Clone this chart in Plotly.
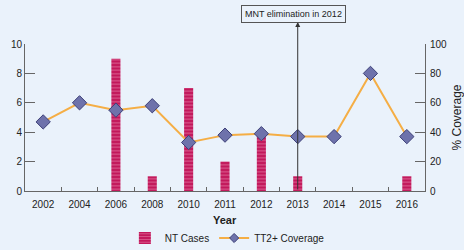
import plotly.graph_objects as go

years = ["2002", "2004", "2006", "2008", "2010", "2011", "2012", "2013", "2014", "2015", "2016"]
nt_cases = [0, 0, 9, 1, 7, 2, 4, 1, 0, 0, 1]
coverage = [47, 60, 55, 58, 33, 38, 39, 37, 37, 80, 37]
left_ticks = [0, 2, 4, 6, 8, 10]
right_ticks = [0, 20, 40, 60, 80, 100]
marker_year = "2013"

BG = "#eaf2fb"
AX = "#666666"
FONT = "Liberation Sans Narrow, Arial Narrow, Liberation Sans, Arial"
LINE_C = "#f5ae45"
MK_C = "#6e72ab"
MK_L = "#3d4078"

mi = years.index(marker_year)

fig = go.Figure()
fig.add_trace(go.Bar(
    x=years, y=nt_cases, name="NT Cases", width=0.25,
    marker=dict(color="#c2185b", line=dict(width=0),
                pattern=dict(shape="-", fgcolor="#f3a6c4", bgcolor="#c2185b",
                             size=3.5, solidity=0.3)),
))
fig.add_trace(go.Scatter(
    x=years, y=coverage, name="TT2+ Coverage", yaxis="y2", mode="lines+markers",
    showlegend=False,
    line=dict(color=LINE_C, width=2),
    marker=dict(symbol="diamond", size=11, color=MK_C, line=dict(color=MK_L, width=1)),
))
# legend entry with smaller marker
fig.add_trace(go.Scatter(
    x=[None], y=[None], name="TT2+ Coverage", yaxis="y2", mode="lines+markers",
    line=dict(color=LINE_C, width=2),
    marker=dict(symbol="diamond", size=7, color=MK_C, line=dict(color=MK_L, width=1)),
))

fig.update_layout(
    width=464, height=250,
    margin=dict(l=25, r=39, t=44, b=59, autoexpand=False),
    paper_bgcolor=BG, plot_bgcolor=BG,
    font=dict(family=FONT, size=10, color="#222222"),
    xaxis=dict(
        type="category", categoryarray=years, range=[-0.5, len(years) - 0.5],
        automargin=False,
        showgrid=False, showline=True, linecolor=AX, linewidth=1,
        ticks="inside", ticklen=4, tickcolor=AX, tickson="boundaries",
        ticklabelstandoff=4,
        tickfont=dict(size=10), tickangle=0,
    ),
    yaxis=dict(
        range=[0, 10], tickvals=left_ticks, showgrid=False, zeroline=False,
        automargin=False,
        showline=True, linecolor=AX, linewidth=1,
        ticks="inside", ticklen=10, tickcolor=AX, tickfont=dict(size=10),
    ),
    yaxis2=dict(
        range=[0, 100], tickvals=right_ticks, overlaying="y", side="right",
        automargin=False,
        showgrid=False, zeroline=False, showline=True, linecolor=AX, linewidth=1,
        ticks="inside", ticklen=10, tickcolor=AX, tickfont=dict(size=10),
        ticklabelstandoff=2,
        title=dict(text="% Coverage", font=dict(size=12, family="Liberation Sans, Arial"), standoff=6),
    ),
    legend=dict(orientation="h", x=0.49, xanchor="center", xref="container",
                y=0.048, yanchor="middle", yref="container",
                bgcolor="rgba(0,0,0,0)", font=dict(size=10)),
    showlegend=True,
)

# x-axis title
fig.add_annotation(
    x=0.5, y=-0.197, xref="paper", yref="paper", xanchor="center", yanchor="middle",
    text="<b>Year</b>", showarrow=False,
    font=dict(size=11, family="Liberation Sans, Arial", color="#222222"),
)

fig.add_annotation(
    x=mi, y=1.15, xref="x", yref="paper",
    text="", showarrow=True, arrowhead=2, arrowsize=1, arrowwidth=1,
    arrowcolor="#333333", ax=0, ay=169,
)
fig.add_annotation(
    x=mi, y=1.205, xref="x", yref="paper", xanchor="center", yanchor="middle",
    xshift=-4,
    text="MNT elimination in 2012", showarrow=False,
    font=dict(size=9, family="Liberation Sans, Arial", color="#222222"),
    bordercolor="#555555", borderwidth=1, borderpad=3, bgcolor=BG,
)

fig.write_html("out.html")
